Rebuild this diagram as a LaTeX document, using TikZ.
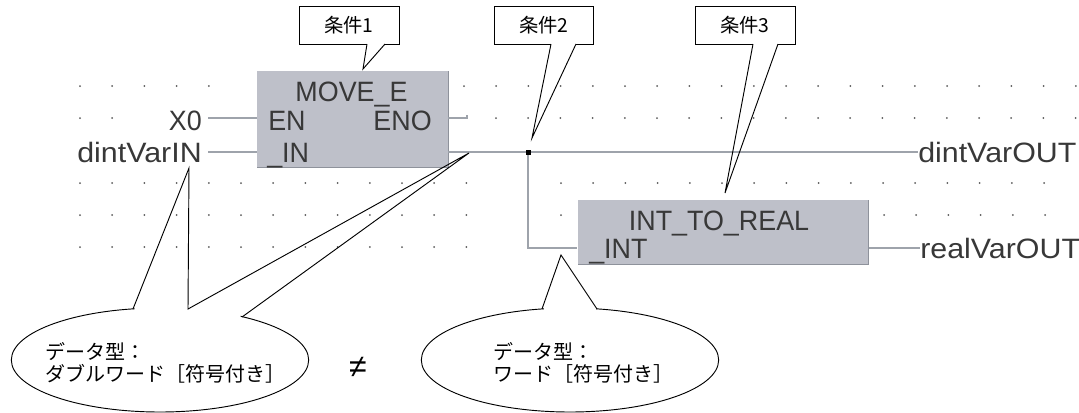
\documentclass[tikz,border=0pt]{standalone}
\usepackage{fontspec}
\usepackage{amsmath}
\usepackage{xcolor}
\usetikzlibrary{positioning}
\usetikzlibrary{shapes.geometric}
\setmainfont{Liberation Sans}
\newfontfamily\cjk{Noto Sans CJK JP}
\newfontfamily\ladfont[FakeStretch=0.96]{Liberation Sans}
\newfontfamily\ladwide[FakeStretch=1.085]{Liberation Sans}
\definecolor{blockgray}{HTML}{BEC0C9}
\definecolor{edgegray}{HTML}{8E929B}
\definecolor{wiregray}{HTML}{9EA3AB}
\definecolor{ladtext}{HTML}{383838}
\tikzset{
	ladlabel/.style={inner sep=0pt,text=ladtext,font=\ladfont\fontsize{21}{21}\selectfont},
	ladvar/.style={ladlabel,font=\ladwide\fontsize{21}{21}\selectfont},
	block/.style={fill=blockgray,inner sep=0pt},
	wire/.style={draw=wiregray,line width=2pt},
	cond/.style={draw=black,fill=white,line width=0.7pt,font=\cjk\fontsize{14.5}{14.5}\selectfont,minimum height=28pt,inner sep=0pt},
	callout/.style={draw=black,line width=0.7pt},
	bubble/.style={draw=black,fill=white,line width=0.7pt,ellipse,minimum width=223pt,minimum height=78pt,inner sep=0pt},
	note/.style={inner sep=0pt,align=left,font=\cjk\fontsize{15}{16.5}\selectfont}
}
\begin{document}
\begin{tikzpicture}[x=0.75pt,y=-0.75pt]
	\useasboundingbox (0,0) rectangle (1079,412);
	\clip (0,0) rectangle (1079,412);
	% grid dots
	\foreach \row/\xa/\xb in {86/80/240,86/464/1076,118/80/144,118/496/1076,183/80/496,183/561/1076,215/80/496,215/561/561,215/884/1076,247/80/496}
	{
		\pgfmathsetmacro{\xnext}{\xa+32.2}
		\foreach \dotx in {\xa,\xnext,...,\xb}
		{
			\fill[black!65] (\dotx,\row) circle (0.75pt);
		}
	}
	% blocks
	\node[block,anchor=north west,minimum width=143pt,minimum height=72pt] (moveE) at (257,71) {};
	\draw[edgegray,line width=1pt] (moveE.south west) -- (moveE.south east) -- (moveE.north east);
	\node[block,anchor=north west,minimum width=217.5pt,minimum height=48pt] (toReal) at (578,200) {};
	\draw[edgegray,line width=1pt] (toReal.south west) -- (toReal.south east) -- (toReal.north east);
	\node[ladlabel,anchor=base] (moveName) at (351.5,101) {MOVE\_E};
	\node[ladlabel,anchor=base west] (en) at (268,130) {EN};
	\node[ladlabel,anchor=base east] (eno) at (432,130) {ENO};
	\node[ladlabel,anchor=base west] (in) at (267,162) {\_IN};
	\node[ladlabel,anchor=base] (toRealName) at (719,230) {INT\_TO\_REAL};
	\node[ladlabel,anchor=base west] (int) at (589,258) {\_INT};
	% variables
	\node[ladlabel,anchor=base east] (x0) at (202,130) {X0};
	\node[ladvar,anchor=base east] (dintIn) at (202,162) {dintVarIN};
	\node[ladvar,anchor=base west] (dintOut) at (918,162) {dintVarOUT};
	\node[ladvar,anchor=base west] (realOut) at (920,258) {realVarOUT};
	% wires
	\coordinate (enoEnd) at (467,118);
	\coordinate (split) at (528,152);
	\coordinate (inWire) at (208,152);
	\coordinate (xWire) at (208,118);
	\coordinate (intWire) at (577,248);
	\draw[wire] (xWire) -- (xWire -| moveE.west);
	\draw[wire] (inWire) -- (inWire -| moveE.west);
	\draw[wire] (moveE.east |- enoEnd) -- (enoEnd) -- ++(0,-3);
	\draw[wire] (moveE.east |- split) -- (split -| dintOut.west);
	\draw[wire] (split) |- (intWire);
	\draw[wire] (toReal.east |- intWire) -- (intWire -| realOut.west);
	\fill[black] (525.5,149.5) rectangle (530.5,154.5);
	% condition boxes
	\node[cond,minimum width=75pt] (condA) at (349,25.5) {条件1};
	\node[cond,minimum width=74pt] (condB) at (544,25.5) {条件2};
	\node[cond,minimum width=75pt] (condC) at (745,25.5) {条件3};
	\draw[white,line width=1pt] (367,44) -- (385,44) (551,44) -- (576,44) (753,44) -- (778,44);
	\draw[callout] (367,44) -- (363,69) -- (385,44);
	\draw[callout] (551,44) -- (532,138) -- (576,44);
	\draw[callout] (753,44) -- (725,193) -- (778,44);
	% notes
	\node[bubble] (noteA) at (160,360) {};
	\node[bubble] (noteB) at (570,360) {};
	\fill[white] (134.5,306) -- (240.5,306) -- (240.5,319) -- (134.5,312) -- cycle;
	\fill[white] (543.5,306) -- (595.5,306) -- (595.5,312) -- (543.5,312) -- cycle;
	\draw[callout] (133,309) -- (189,168) -- (188,309) -- (469,153) -- (242,317);
	\draw[callout] (542,309) -- (561,255) -- (597,309);
	\node[note,anchor=west] (textA) at (45,363) {データ型：\\ダブルワード［符号付き］};
	\node[note,anchor=west] (textB) at (493,363) {データ型：\\ワード［符号付き］};
	\node[inner sep=0pt,font=\fontsize{24}{24}\selectfont] (neq) at (358,367) {≠};
\end{tikzpicture}
\end{document}
